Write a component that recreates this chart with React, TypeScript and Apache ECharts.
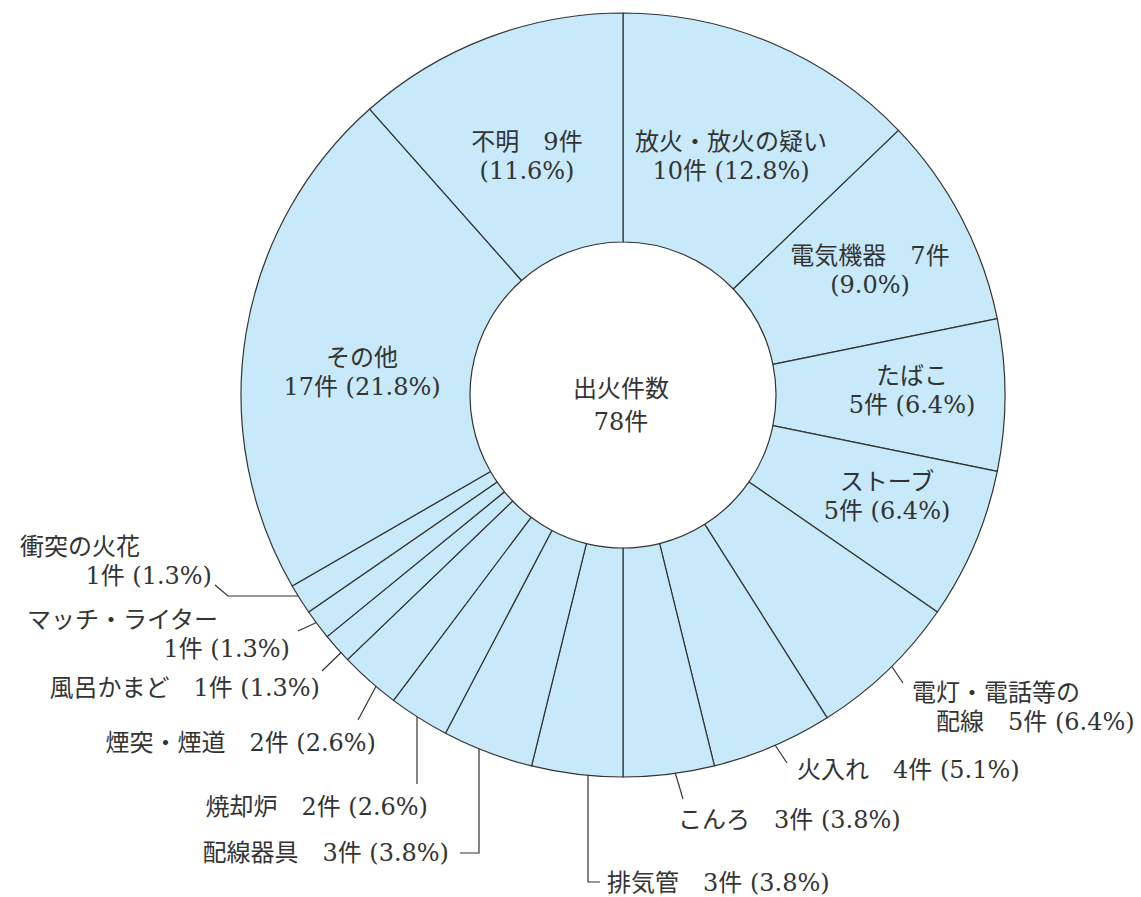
import React, { useEffect, useRef } from "react";
import * as echarts from "echarts";

const categories = [
  "放火・放火の疑い", "電気機器", "たばこ", "ストーブ", "電灯・電話等の配線", "火入れ",
  "こんろ", "排気管", "配線器具", "焼却炉", "煙突・煙道", "風呂かまど",
  "マッチ・ライター", "衝突の火花", "その他", "不明",
];
const labelNames = [
  "放火・放火の疑い", "電気機器", "たばこ", "ストーブ", "電灯・電話等の\n　配線", "火入れ",
  "こんろ", "排気管", "配線器具", "焼却炉", "煙突・煙道", "風呂かまど",
  "マッチ・ライター", "衝突の火花", "その他", "不明",
];
const counts = [10, 7, 5, 5, 5, 4, 3, 3, 3, 2, 2, 1, 1, 1, 17, 9];
const percents = [12.8, 9.0, 6.4, 6.4, 6.4, 5.1, 3.8, 3.8, 3.8, 2.6, 2.6, 1.3, 1.3, 1.3, 21.8, 11.6];
const centerTitle = "出火件数";

// label templates: {n} name, {c} count, {p} percent
const templates = [
  "{n}\n{c}件 ({p}%)",
  "{n}　{c}件\n({p}%)",
  "{n}\n{c}件 ({p}%)",
  "{n}\n{c}件 ({p}%)",
  "{n}　{c}件 ({p}%)",
  "{n}　{c}件 ({p}%)",
  "{n}　{c}件 ({p}%)",
  "{n}　{c}件 ({p}%)",
  "{n}　{c}件 ({p}%)",
  "{n}　{c}件 ({p}%)",
  "{n}　{c}件 ({p}%)",
  "{n}　{c}件 ({p}%)",
  "{n}　　　\n{c}件 ({p}%)",
  "{n}　　　\n{c}件 ({p}%)",
  "{n}\n{c}件 ({p}%)",
  "{n}　{c}件\n({p}%)",
];

// layout: label anchor [x, y, align]
const labelLayouts: [number, number, string][] = [
  [731, 156, "center"],
  [870, 270, "center"],
  [912, 390, "center"],
  [887, 496, "center"],
  [912, 707, "left"],
  [797, 770, "left"],
  [678, 820, "left"],
  [607, 883, "left"],
  [449, 853, "right"],
  [428, 807, "right"],
  [376, 743, "right"],
  [320, 688, "right"],
  [290, 634, "right"],
  [212, 561, "right"],
  [362, 372, "center"],
  [527, 156, "center"],
];
const insideFlags = [true, true, true, true, false, false, false, false, false, false, false, false, false, false, true, true];
const leaderLines: (number[][] | null)[] = [
  null, null, null, null,
  [[882, 652], [903, 683]],
  [[767, 733], [787, 763]],
  [[672, 762], [683, 799]],
  [[588, 749], [588, 882], [600, 882]],
  [[479, 736], [479, 853], [460, 853]],
  [[417, 703], [417, 784]],
  [[381, 677], [358, 720]],
  [[353, 641], [322, 671]],
  [[337, 613], [298, 631]],
  [[310, 596], [228, 596], [215, 585]],
  null, null,
];

const FONT = "DejaVu Serif, Noto Sans CJK JP, serif";
const TEXT_COLOR = "#333";
const FILL = "#c7e9f9";

export default function App() {
  const ref = useRef<HTMLDivElement>(null);
  useEffect(() => {
    document.body.style.margin = "0";
    if (!ref.current) return;
    const chart = echarts.init(ref.current, undefined, { renderer: "svg" });
    const total = counts.reduce((a, b) => a + b, 0);
    const data = categories.map((name, i) => ({
      name,
      value: counts[i],
      label: {
        position: insideFlags[i] ? "inside" : "outside",
        formatter: templates[i]
          .replace("{n}", labelNames[i])
          .replace("{c}", String(counts[i]))
          .replace("{p}", percents[i].toFixed(1)),
      },
      labelLine: { show: !insideFlags[i] },
    }));
    chart.setOption({
      animation: false,
      backgroundColor: "#ffffff",
      series: [
        {
          type: "pie",
          center: [623, 395],
          radius: [153, 382],
          startAngle: 90,
          clockwise: true,
          avoidLabelOverlap: false,
          silent: true,
          emphasis: { disabled: true },
          itemStyle: { color: FILL, borderColor: "#333", borderWidth: 1.2 },
          label: {
            show: true,
            color: TEXT_COLOR,
            fontFamily: FONT,
            fontSize: 24,
            lineHeight: 29,
          },
          labelLine: {
            show: true,
            lineStyle: { color: "#333", width: 1.2 },
          },
          labelLayout: (params: any) => {
            const i = params.dataIndex;
            const [x, y, align] = labelLayouts[i];
            const out: any = { x, y, align, verticalAlign: "middle" };
            const pts = leaderLines[i];
            if (pts) out.labelLinePoints = pts;
            return out;
          },
          data,
        },
      ],
      graphic: [
        {
          type: "text",
          x: 621,
          y: 405,
          style: {
            text: centerTitle + "\n" + total + "件",
            align: "center",
            verticalAlign: "middle",
            fontFamily: FONT,
            fontSize: 24,
            lineHeight: 33,
            fill: TEXT_COLOR,
          },
        },
      ],
    });
    return () => chart.dispose();
  }, []);
  return <div ref={ref} style={{ width: 1141, height: 897 }} />;
}
